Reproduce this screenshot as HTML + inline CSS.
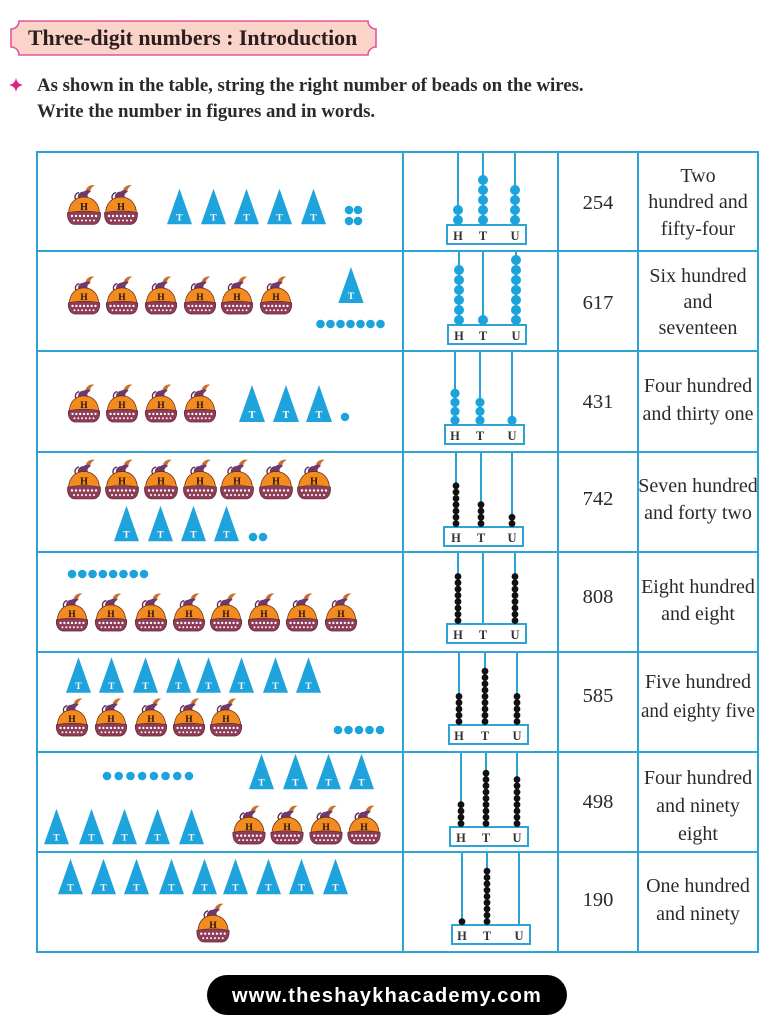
<!DOCTYPE html>
<html>
<head>
<meta charset="utf-8">
<style>
  html,body{margin:0;padding:0;background:#fff;}
  svg{display:block;}
  .ser{font-family:"Liberation Serif",serif;}
  .num{font-family:"Liberation Serif",serif;font-size:20.5px;fill:#2a2a2a;text-anchor:middle;}
  .wd{font-family:"Liberation Serif",serif;font-size:20px;fill:#2a2a2a;text-anchor:middle;}
  .lt{font-family:"Liberation Serif",serif;font-weight:bold;font-size:12.5px;fill:#333;text-anchor:middle;}
  .rod{stroke:#2aa3d6;stroke-width:2;}
  .box{fill:#fff;stroke:#2ea3d5;stroke-width:2;}
  .bb{stroke:#1ca3dc;stroke-linecap:round;stroke-width:10;stroke-dasharray:0.01 9.99;fill:none;}
  .bb3{stroke:#1ca3dc;stroke-linecap:round;stroke-width:9.2;stroke-dasharray:0.01 8.99;fill:none;}
  .kb{stroke:#111;stroke-linecap:round;stroke-width:6.8;stroke-dasharray:0.01 6.29;fill:none;}
  .dt{stroke:#1ca3dc;stroke-linecap:round;stroke-width:8.6;fill:none;}
  .grid{stroke:#2ea3d5;stroke-width:2;fill:none;}
</style>
</head>
<body>
<svg width="779" height="1024" viewBox="0 0 779 1024" xmlns="http://www.w3.org/2000/svg">
  <defs>
    <symbol id="bag" viewBox="0 0 36 42">
      <path d="M13,9 C9,10 8,14 10,16" stroke="#5b2d55" stroke-width="1.4" fill="none"/>
      <path d="M20,6 C22,2 26,1 29,2 C26,3 25,5 24,8 Z" fill="#c9702a"/>
      <path d="M12,15 C11,11 14,8 18,8 C20,6 23,6 25,8 C22,10 20,12 23,15 Z" fill="#6f3a6b"/>
      <path d="M2.5,31 C2.5,19 10,13.5 18,13.5 C26,13.5 33.5,19 33.5,31 Z" fill="#f28c1e" stroke="#6b2b1a" stroke-width="0.8"/>
      <path d="M1.5,29 Q18,26 34.5,29 C35,35 33,40 28,41 L8,41 C3,40 1,35 1.5,29 Z" fill="#8e3d57" stroke="#5a2030" stroke-width="0.6"/>
      <g fill="#fff">
        <circle cx="6" cy="32.5" r="1.2"/><circle cx="10" cy="32.5" r="1.2"/><circle cx="14" cy="32.5" r="1.2"/><circle cx="18" cy="32.5" r="1.2"/><circle cx="22" cy="32.5" r="1.2"/><circle cx="26" cy="32.5" r="1.2"/><circle cx="30" cy="32.5" r="1.2"/>
        <circle cx="8" cy="37" r="1"/><circle cx="12" cy="37" r="1"/><circle cx="16" cy="37" r="1"/><circle cx="20" cy="37" r="1"/><circle cx="24" cy="37" r="1"/><circle cx="28" cy="37" r="1"/>
      </g>
      <text x="18" y="26.5" font-family="Liberation Serif, serif" font-weight="bold" font-size="10" fill="#2a120a" text-anchor="middle">H</text>
    </symbol>
    <symbol id="tri" viewBox="0 0 26 37">
      <polygon points="13,0 26,37 0,37" fill="#1ea3dc"/>
      <text x="13" y="33" font-family="Liberation Serif, serif" font-weight="bold" font-size="10" fill="#fff" text-anchor="middle">T</text>
    </symbol>
  </defs>

  <!-- Header banner -->
  <path d="M19,21 H368 A8,8 0 0 0 376,29 V47 A8,8 0 0 0 368,55 H19 A8,8 0 0 0 11,47 V29 A8,8 0 0 0 19,21 Z" fill="#fad4c8" stroke="#e4559a" stroke-width="1.6"/>
  <text x="28" y="45" class="ser" font-weight="bold" font-size="21.8" fill="#2a1e1e">Three-digit numbers : Introduction</text>

  <!-- Instruction -->
  <path d="M16,78 Q17,84 23,85 Q17,86 16,92 Q15,86 9,85 Q15,84 16,78 Z" fill="#e0208a"/>
  <text x="37" y="91" class="ser" font-weight="bold" font-size="18.8" fill="#2a2a2a">As shown in the table, string the right number of beads on the wires.</text>
  <text x="37" y="117" class="ser" font-weight="bold" font-size="18.8" fill="#2a2a2a">Write the number in figures and in words.</text>

  <!-- ROW 1 left -->
  <use href="#bag" x="66" y="183" width="36" height="43"/>
  <use href="#bag" x="103" y="183" width="36" height="43"/>
  <use href="#tri" x="167" y="188" width="25" height="37"/>
  <use href="#tri" x="201" y="188" width="25" height="37"/>
  <use href="#tri" x="234" y="188" width="25" height="37"/>
  <use href="#tri" x="267" y="188" width="25" height="37"/>
  <use href="#tri" x="301" y="188" width="25" height="37"/>
  <g fill="#1ca3dc"><circle cx="349" cy="210" r="4.3"/><circle cx="358" cy="210" r="4.3"/><circle cx="349" cy="221" r="4.3"/><circle cx="358" cy="221" r="4.3"/></g>

  <!-- ROW 2 left -->
  <use href="#bag" x="66" y="275" width="36" height="40"/>
  <use href="#bag" x="104" y="275" width="36" height="40"/>
  <use href="#bag" x="143" y="275" width="36" height="40"/>
  <use href="#bag" x="182" y="275" width="36" height="40"/>
  <use href="#bag" x="219" y="275" width="36" height="40"/>
  <use href="#bag" x="258" y="275" width="36" height="40"/>
  <use href="#tri" x="338" y="267" width="26" height="36"/>
  <line class="dt" x1="320.5" y1="324" x2="380.52" y2="324" stroke-dasharray="0.01 9.99"/>

  <!-- ROW 3 left -->
  <use href="#bag" x="66" y="383" width="36" height="40"/>
  <use href="#bag" x="104" y="383" width="36" height="40"/>
  <use href="#bag" x="143" y="383" width="36" height="40"/>
  <use href="#bag" x="182" y="383" width="36" height="40"/>
  <use href="#tri" x="239" y="385" width="26" height="37"/>
  <use href="#tri" x="273" y="385" width="26" height="37"/>
  <use href="#tri" x="306" y="385" width="26" height="37"/>
  <circle cx="345" cy="417" r="4.2" fill="#1ca3dc"/>

  <!-- ROW 4 left -->
  <use href="#bag" x="66" y="458" width="36" height="42"/>
  <use href="#bag" x="104" y="458" width="36" height="42"/>
  <use href="#bag" x="143" y="458" width="36" height="42"/>
  <use href="#bag" x="182" y="458" width="36" height="42"/>
  <use href="#bag" x="219" y="458" width="36" height="42"/>
  <use href="#bag" x="258" y="458" width="36" height="42"/>
  <use href="#bag" x="296" y="458" width="36" height="42"/>
  <use href="#tri" x="114" y="505" width="25" height="37"/>
  <use href="#tri" x="148" y="505" width="25" height="37"/>
  <use href="#tri" x="181" y="505" width="25" height="37"/>
  <use href="#tri" x="214" y="505" width="25" height="37"/>
  <g fill="#1ca3dc"><circle cx="253" cy="537" r="4.3"/><circle cx="263" cy="537" r="4.3"/></g>

  <!-- ROW 5 left -->
  <line class="dt" x1="72" y1="574" x2="144.02" y2="574" stroke-dasharray="0.01 10.276"/>
  <use href="#bag" x="54" y="592" width="36" height="40"/>
  <use href="#bag" x="93" y="592" width="36" height="40"/>
  <use href="#bag" x="133" y="592" width="36" height="40"/>
  <use href="#bag" x="171" y="592" width="36" height="40"/>
  <use href="#bag" x="208" y="592" width="36" height="40"/>
  <use href="#bag" x="246" y="592" width="36" height="40"/>
  <use href="#bag" x="284" y="592" width="36" height="40"/>
  <use href="#bag" x="323" y="592" width="36" height="40"/>

  <!-- ROW 6 left -->
  <use href="#tri" x="66" y="657" width="25" height="36"/>
  <use href="#tri" x="99" y="657" width="25" height="36"/>
  <use href="#tri" x="133" y="657" width="25" height="36"/>
  <use href="#tri" x="166" y="657" width="25" height="36"/>
  <use href="#tri" x="196" y="657" width="25" height="36"/>
  <use href="#tri" x="229" y="657" width="25" height="36"/>
  <use href="#tri" x="263" y="657" width="25" height="36"/>
  <use href="#tri" x="296" y="657" width="25" height="36"/>
  <use href="#bag" x="54" y="697" width="36" height="40"/>
  <use href="#bag" x="93" y="697" width="36" height="40"/>
  <use href="#bag" x="133" y="697" width="36" height="40"/>
  <use href="#bag" x="171" y="697" width="36" height="40"/>
  <use href="#bag" x="208" y="697" width="36" height="40"/>
  <line class="dt" x1="338" y1="730" x2="380.02" y2="730" stroke-dasharray="0.01 10.49"/>

  <!-- ROW 7 left -->
  <line class="dt" x1="107" y1="776" x2="189.02" y2="776" stroke-dasharray="0.01 11.7"/>
  <use href="#tri" x="249" y="753" width="25" height="37"/>
  <use href="#tri" x="283" y="753" width="25" height="37"/>
  <use href="#tri" x="316" y="753" width="25" height="37"/>
  <use href="#tri" x="349" y="753" width="25" height="37"/>
  <use href="#tri" x="44" y="808" width="25" height="37"/>
  <use href="#tri" x="79" y="808" width="25" height="37"/>
  <use href="#tri" x="112" y="808" width="25" height="37"/>
  <use href="#tri" x="145" y="808" width="25" height="37"/>
  <use href="#tri" x="179" y="808" width="25" height="37"/>
  <use href="#bag" x="231" y="804" width="36" height="41"/>
  <use href="#bag" x="269" y="804" width="36" height="41"/>
  <use href="#bag" x="308" y="804" width="36" height="41"/>
  <use href="#bag" x="346" y="804" width="36" height="41"/>

  <!-- ROW 8 left -->
  <use href="#tri" x="58" y="858" width="25" height="37"/>
  <use href="#tri" x="91" y="858" width="25" height="37"/>
  <use href="#tri" x="124" y="858" width="25" height="37"/>
  <use href="#tri" x="159" y="858" width="25" height="37"/>
  <use href="#tri" x="192" y="858" width="25" height="37"/>
  <use href="#tri" x="223" y="858" width="25" height="37"/>
  <use href="#tri" x="256" y="858" width="25" height="37"/>
  <use href="#tri" x="289" y="858" width="25" height="37"/>
  <use href="#tri" x="323" y="858" width="25" height="37"/>
  <use href="#bag" x="195" y="902" width="36" height="41"/>

  <!-- ABACUS ROW 1 -->
  <line class="rod" x1="458" y1="152" x2="458" y2="225"/><line class="rod" x1="483" y1="152" x2="483" y2="225"/><line class="rod" x1="515" y1="152" x2="515" y2="225"/>
  <rect class="box" x="447" y="225" width="79" height="19"/>
  <text class="lt" x="458" y="240">H</text><text class="lt" x="483" y="240">T</text><text class="lt" x="515" y="240">U</text>
  <line class="bb" x1="458" y1="210" x2="458" y2="220.02"/>
  <line class="bb" x1="483" y1="180" x2="483" y2="220.02"/>
  <line class="bb" x1="515" y1="190" x2="515" y2="220.02"/>

  <!-- ABACUS ROW 2 -->
  <line class="rod" x1="459" y1="251" x2="459" y2="325"/><line class="rod" x1="483" y1="251" x2="483" y2="325"/><line class="rod" x1="516" y1="251" x2="516" y2="325"/>
  <rect class="box" x="448" y="325" width="78" height="19"/>
  <text class="lt" x="459" y="340">H</text><text class="lt" x="483" y="340">T</text><text class="lt" x="516" y="340">U</text>
  <line class="bb" x1="459" y1="270" x2="459" y2="320.02"/>
  <circle cx="483" cy="320" r="5" fill="#1ca3dc"/>
  <line class="bb" x1="516" y1="260" x2="516" y2="320.02"/>

  <!-- ABACUS ROW 3 -->
  <line class="rod" x1="455" y1="351" x2="455" y2="425"/><line class="rod" x1="480" y1="351" x2="480" y2="425"/><line class="rod" x1="512" y1="351" x2="512" y2="425"/>
  <rect class="box" x="445" y="425" width="79" height="19"/>
  <text class="lt" x="455" y="440">H</text><text class="lt" x="480" y="440">T</text><text class="lt" x="512" y="440">U</text>
  <line class="bb3" x1="455" y1="393.4" x2="455" y2="420.42"/>
  <line class="bb3" x1="480" y1="402.4" x2="480" y2="420.42"/>
  <circle cx="512" cy="420.4" r="4.6" fill="#1ca3dc"/>

  <!-- ABACUS ROW 4 -->
  <line class="rod" x1="456" y1="452" x2="456" y2="527"/><line class="rod" x1="481" y1="452" x2="481" y2="527"/><line class="rod" x1="512" y1="452" x2="512" y2="527"/>
  <rect class="box" x="444" y="527" width="79" height="19"/>
  <text class="lt" x="456" y="542">H</text><text class="lt" x="481" y="542">T</text><text class="lt" x="512" y="542">U</text>
  <line class="kb" x1="456" y1="485.8" x2="456" y2="523.62"/>
  <line class="kb" x1="481" y1="504.7" x2="481" y2="523.62"/>
  <line class="kb" x1="512" y1="517.3" x2="512" y2="523.62"/>

  <!-- ABACUS ROW 5 -->
  <line class="rod" x1="458" y1="552" x2="458" y2="624"/><line class="rod" x1="483" y1="552" x2="483" y2="624"/><line class="rod" x1="515" y1="552" x2="515" y2="624"/>
  <rect class="box" x="447" y="624" width="79" height="19"/>
  <text class="lt" x="458" y="639">H</text><text class="lt" x="483" y="639">T</text><text class="lt" x="515" y="639">U</text>
  <line class="kb" x1="458" y1="576.5" x2="458" y2="620.62"/>
  <line class="kb" x1="515" y1="576.5" x2="515" y2="620.62"/>

  <!-- ABACUS ROW 6 -->
  <line class="rod" x1="459" y1="652" x2="459" y2="725"/><line class="rod" x1="485" y1="652" x2="485" y2="725"/><line class="rod" x1="517" y1="652" x2="517" y2="725"/>
  <rect class="box" x="449" y="725" width="79" height="19"/>
  <text class="lt" x="459" y="740">H</text><text class="lt" x="485" y="740">T</text><text class="lt" x="517" y="740">U</text>
  <line class="kb" x1="459" y1="696.4" x2="459" y2="721.62"/>
  <line class="kb" x1="485" y1="671.2" x2="485" y2="721.62" stroke-dasharray="0.01 7.19"/>
  <line class="kb" x1="517" y1="696.4" x2="517" y2="721.62"/>

  <!-- ABACUS ROW 7 -->
  <line class="rod" x1="461" y1="752" x2="461" y2="827"/><line class="rod" x1="486" y1="752" x2="486" y2="827"/><line class="rod" x1="517" y1="752" x2="517" y2="827"/>
  <rect class="box" x="450" y="827" width="78" height="19"/>
  <text class="lt" x="461" y="842">H</text><text class="lt" x="486" y="842">T</text><text class="lt" x="517" y="842">U</text>
  <line class="kb" x1="461" y1="804.7" x2="461" y2="823.62"/>
  <line class="kb" x1="486" y1="773.2" x2="486" y2="823.62"/>
  <line class="kb" x1="517" y1="779.5" x2="517" y2="823.62"/>

  <!-- ABACUS ROW 8 -->
  <line class="rod" x1="462" y1="852" x2="462" y2="925"/><line class="rod" x1="487" y1="852" x2="487" y2="925"/><line class="rod" x1="519" y1="852" x2="519" y2="925"/>
  <rect class="box" x="452" y="925" width="78" height="19"/>
  <text class="lt" x="462" y="940">H</text><text class="lt" x="487" y="940">T</text><text class="lt" x="519" y="940">U</text>
  <circle cx="462" cy="921.6" r="3.4" fill="#111"/>
  <line class="kb" x1="487" y1="871.2" x2="487" y2="921.62"/>

  <!-- Numbers -->
  <text class="num" x="598" y="209">254</text>
  <text class="num" x="598" y="309">617</text>
  <text class="num" x="598" y="408">431</text>
  <text class="num" x="598" y="505">742</text>
  <text class="num" x="598" y="603">808</text>
  <text class="num" x="598" y="702">585</text>
  <text class="num" x="598" y="808">498</text>
  <text class="num" x="598" y="906">190</text>

  <!-- Words -->
  <text class="wd" x="698" y="182">Two</text>
  <text class="wd" x="698" y="208">hundred and</text>
  <text class="wd" x="698" y="235">fifty-four</text>

  <text class="wd" x="698" y="282">Six hundred</text>
  <text class="wd" x="698" y="308">and</text>
  <text class="wd" x="698" y="334">seventeen</text>

  <text class="wd" x="698" y="392">Four hundred</text>
  <text class="wd" x="698" y="420">and thirty one</text>

  <text class="wd" x="698" y="492">Seven hundred</text>
  <text class="wd" x="698" y="519">and forty two</text>

  <text class="wd" x="698" y="593">Eight hundred</text>
  <text class="wd" x="698" y="620">and eight</text>

  <text class="wd" x="698" y="688">Five hundred</text>
  <text class="wd" x="698" y="717" textLength="114" lengthAdjust="spacingAndGlyphs">and eighty five</text>

  <text class="wd" x="698" y="784">Four hundred</text>
  <text class="wd" x="698" y="812">and ninety</text>
  <text class="wd" x="698" y="840">eight</text>

  <text class="wd" x="698" y="892">One hundred</text>
  <text class="wd" x="698" y="920">and ninety</text>

  <!-- Table grid -->
  <rect class="grid" x="37" y="152" width="721" height="800"/>
  <line class="grid" x1="403" y1="152" x2="403" y2="952"/>
  <line class="grid" x1="558" y1="152" x2="558" y2="952"/>
  <line class="grid" x1="638" y1="152" x2="638" y2="952"/>
  <line class="grid" x1="37" y1="251" x2="758" y2="251"/>
  <line class="grid" x1="37" y1="351" x2="758" y2="351"/>
  <line class="grid" x1="37" y1="452" x2="758" y2="452"/>
  <line class="grid" x1="37" y1="552" x2="758" y2="552"/>
  <line class="grid" x1="37" y1="652" x2="758" y2="652"/>
  <line class="grid" x1="37" y1="752" x2="758" y2="752"/>
  <line class="grid" x1="37" y1="852" x2="758" y2="852"/>

  <!-- Footer pill -->
  <rect x="207" y="975" width="360" height="40" rx="20" ry="20" fill="#000"/>
  <text x="387" y="1002" font-family="Liberation Sans, sans-serif" font-weight="bold" font-size="20" letter-spacing="1.2" fill="#fff" text-anchor="middle">www.theshaykhacademy.com</text>
</svg>
</body>
</html>
